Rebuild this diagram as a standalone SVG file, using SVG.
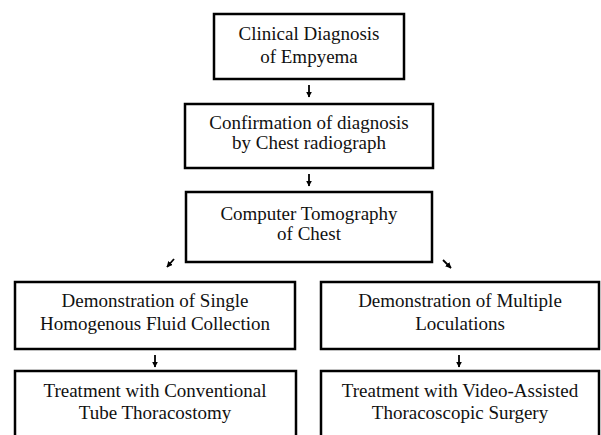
<svg xmlns="http://www.w3.org/2000/svg" width="601" height="435" viewBox="0 0 601 435">
<defs>
<style>
.box{fill:#fff;stroke:#000;stroke-width:2.5}
.t{font-family:"Liberation Serif","Times New Roman",serif;font-size:19px;fill:#111;text-anchor:middle}
.c{stroke:#000;stroke-width:1.8;fill:none}
</style>
<marker id="ah" viewBox="0 0 10 10" refX="9" refY="5" markerWidth="6" markerHeight="6" orient="auto" markerUnits="userSpaceOnUse">
<path d="M0,0 L10,5 L0,10 z" fill="#000"/>
</marker>
</defs>
<rect width="601" height="435" fill="#fff"/>
<g id="n1"><rect class="box" x="214" y="14" width="190" height="65"/>
<text class="t" x="309" y="40">Clinical Diagnosis</text><text class="t" x="309" y="63">of Empyema</text></g>
<g id="n2"><rect class="box" x="185" y="104" width="248" height="64"/>
<text class="t" x="309" y="129">Confirmation of diagnosis</text><text class="t" x="309" y="149">by Chest radiograph</text></g>
<g id="n3"><rect class="box" x="186" y="192" width="246" height="70"/>
<text class="t" x="309" y="220">Computer Tomography</text><text class="t" x="309" y="240">of Chest</text></g>
<g id="n4"><rect class="box" x="15" y="282" width="280" height="67"/>
<text class="t" x="155" y="307">Demonstration of Single</text><text class="t" x="155" y="330">Homogenous Fluid Collection</text></g>
<g id="n5"><rect class="box" x="321" y="282" width="278" height="67"/>
<text class="t" x="460" y="307">Demonstration of Multiple</text><text class="t" x="460" y="330">Loculations</text></g>
<g id="n6"><rect class="box" x="15" y="371" width="281" height="80"/>
<text class="t" x="155" y="397">Treatment with Conventional</text><text class="t" x="155" y="419">Tube Thoracostomy</text></g>
<g id="n7"><rect class="box" x="321" y="371" width="278" height="80"/>
<text class="t" x="460" y="397">Treatment with Video-Assisted</text><text class="t" x="460" y="419">Thoracoscopic Surgery</text></g>
<g id="connectors">
<line class="c" x1="309" y1="85" x2="309" y2="97" marker-end="url(#ah)"/>
<line class="c" x1="309" y1="174" x2="309" y2="186" marker-end="url(#ah)"/>
<line class="c" x1="174" y1="259" x2="167" y2="267" marker-end="url(#ah)"/>
<line class="c" x1="443" y1="260" x2="451" y2="268" marker-end="url(#ah)"/>
<line class="c" x1="155" y1="355" x2="155" y2="367" marker-end="url(#ah)"/>
<line class="c" x1="459" y1="355" x2="459" y2="367" marker-end="url(#ah)"/>
</g>
</svg>
